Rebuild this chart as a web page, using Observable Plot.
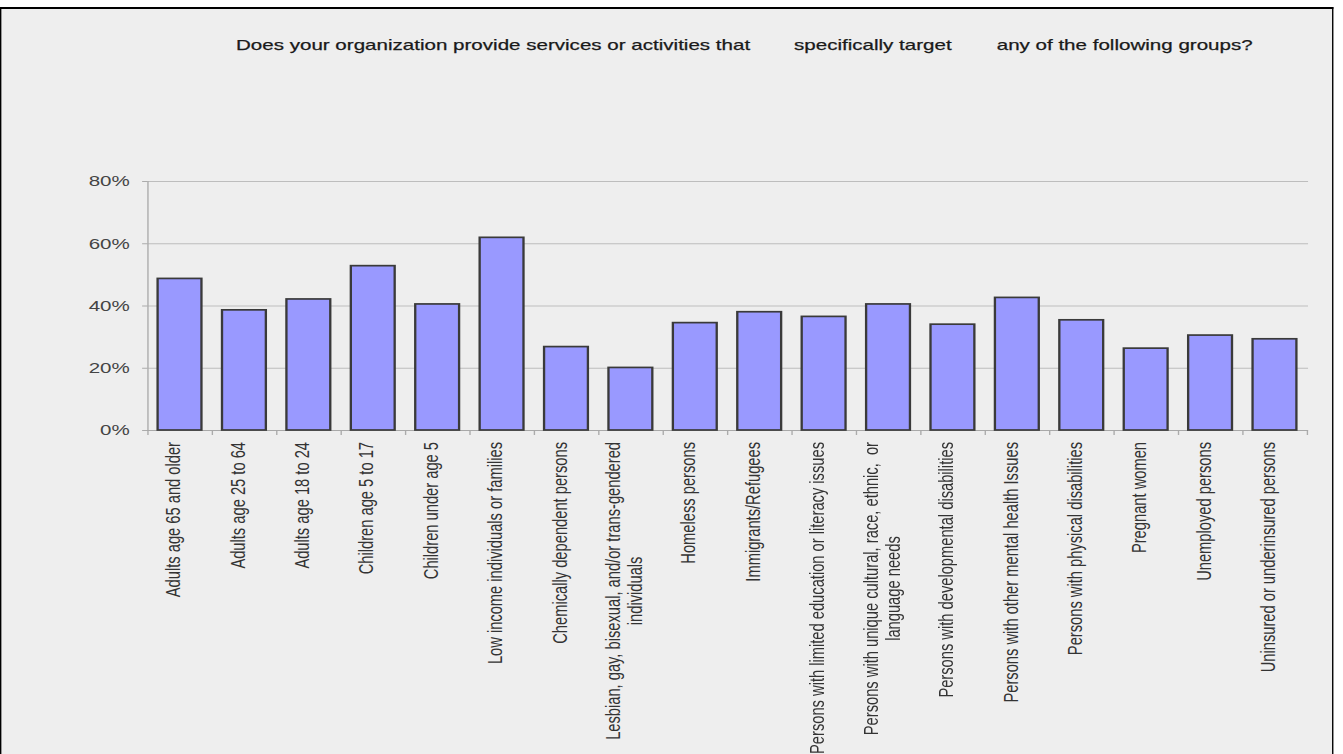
<!DOCTYPE html>
<html><head><meta charset="utf-8">
<script src="https://cdn.jsdelivr.net/npm/d3@7"></script>
<script src="https://cdn.jsdelivr.net/npm/@observablehq/plot@0.6"></script>
<style>
html,body{margin:0;padding:0;background:#fff;overflow:hidden;width:1343px;height:754px;}
#stage{position:absolute;left:0;top:0;width:980px;height:754px;transform:scaleX(1.37041);transform-origin:0 0;font-family:"Liberation Sans",Arial,sans-serif;}
#box{position:absolute;left:0;top:7px;width:971px;height:800px;background:#eeeeee;border-left:1.5px solid #000;border-right:1.5px solid #000;border-top:2px solid #000;}
#title span{position:absolute;top:37px;font-size:15px;line-height:15px;color:#1a1a1a;white-space:pre;-webkit-text-stroke:0.25px #1a1a1a;}
#chart{position:absolute;left:0;top:0;}
#chart svg text{white-space:pre;}
#measure{position:absolute;left:0;top:0;visibility:hidden;}
</style></head>
<body>
<div id="stage">
  <div id="box"></div>
  <div id="chart"></div>
  <div id="title"></div>
</div>
<svg id="measure" width="10" height="10"><text id="mtext" style="white-space:pre"></text></svg>
<script>
const categories = [
  "Adults age 65 and older",
  "Adults age 25 to 64",
  "Adults age 18 to 24",
  "Children age 5 to 17",
  "Children under age 5",
  "Low income individuals or families",
  "Chemically dependent persons",
  "Lesbian, gay, bisexual, and/or trans-gendered\nindividuals",
  "Homeless persons",
  "Immigrants/Refugees",
  "Persons with limited education or literacy issues",
  "Persons with unique cultural, race, ethnic,  or\nlanguage needs",
  "Persons with developmental disabilities",
  "Persons with other mental health Issues",
  "Persons with physical disabilities",
  "Pregnant women",
  "Unemployed persons",
  "Uninsured or underinsured persons"
];
const values = [48.7, 38.6, 42.1, 52.8, 40.5, 61.9, 26.8, 20.1, 34.5, 38.0, 36.5, 40.5, 34.0, 42.6, 35.4, 26.3, 30.5, 29.3];
const yTicks = [0, 20, 40, 60, 80];
const titleParts = [
  "Does your organization provide services or activities that",
  "specifically target",
  "any of the following groups?"
];

const data = categories.map((c, i) => ({cat: c, value: values[i]}));

const W = 980, H = 754;
const mL = 107.3, mR = 25.5, mT = 181, mB = 324;
const step = (W - mL - mR) / categories.length;
const labelFont = 14.7;
const lineGap = 15.8;
const labelTop = 11.5;

const mtext = document.getElementById("mtext");
mtext.setAttribute("font-family", "Liberation Sans");
mtext.setAttribute("font-size", labelFont);
function textWidth(s) {
  mtext.textContent = s;
  return mtext.getComputedTextLength();
}

const labelMarks = [];
categories.forEach(c => {
  const lines = c.split("\n");
  const common = {x: d => d, frameAnchor: "bottom", rotate: -90, fontSize: labelFont, fill: "#333", fontFamily: "Liberation Sans"};
  if (lines.length === 1) {
    labelMarks.push(Plot.text([c], {...common, text: () => lines[0], textAnchor: "end", dy: labelTop}));
  } else {
    const w1 = textWidth(lines[0]);
    labelMarks.push(Plot.text([c], {...common, text: () => lines[0], textAnchor: "end", dy: labelTop, dx: -lineGap / 2}));
    labelMarks.push(Plot.text([c], {...common, text: () => lines[1], textAnchor: "middle", dy: labelTop + w1 / 2, dx: lineGap / 2}));
  }
});

const chart = Plot.plot({
  width: W,
  height: H,
  marginLeft: mL,
  marginRight: mR,
  marginTop: mT,
  marginBottom: mB,
  style: {background: "transparent", fontFamily: "Liberation Sans", overflow: "visible"},
  x: {domain: categories, paddingInner: 0.318, paddingOuter: 0.159, axis: null},
  y: {domain: [0, 80], axis: null},
  marks: [
    Plot.gridY(yTicks, {stroke: "#bdbdbd", strokeOpacity: 1}),
    Plot.ruleX([categories[0]], {x: d => d, dx: -step / 2, stroke: "#ababab"}),
    Plot.ruleX(categories, {x: d => d, y1: 0, y2: 0, insetBottom: -5, dx: -step / 2, stroke: "#ababab"}),
    Plot.ruleX([categories[categories.length - 1]], {x: d => d, y1: 0, y2: 0, insetBottom: -5, dx: step / 2, stroke: "#ababab"}),
    Plot.ruleY([0], {stroke: "#a8a8a8"}),
    Plot.axisY(yTicks, {label: null, tickSize: 3.6, tickPadding: 9.5, tickFormat: d => d + "%", fontSize: 15, fill: "#444", stroke: "#ababab"}),
    Plot.barY(data, {x: "cat", y: "value", fill: "#9999ff", stroke: "#3a3a3a", strokeWidth: 1.7}),
    ...labelMarks
  ]
});
document.getElementById("chart").appendChild(chart);

const titleLefts = [172.2, 579.4, 727.3];
const titleEl = document.getElementById("title");
titleParts.forEach((t, i) => {
  const s = document.createElement("span");
  s.textContent = t;
  s.style.left = titleLefts[i] + "px";
  titleEl.appendChild(s);
});
</script>
</body></html>
